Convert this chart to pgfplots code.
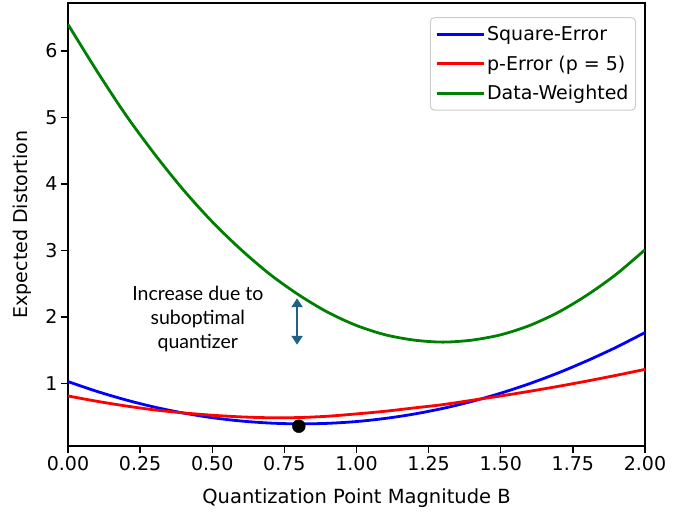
\documentclass[border=0pt]{standalone}
\usepackage{fontspec}
\setmainfont{DejaVu Sans}
\newfontfamily\notefont{Lato}
\usepackage{pgfplots}
\pgfplotsset{compat=1.18}
\usetikzlibrary{arrows.meta}

\definecolor{mplgreen}{RGB}{0,128,0}
\definecolor{notecol}{RGB}{30,98,135}

\begin{document}
\begin{tikzpicture}

\begin{axis}[
    at={(0,0)}, anchor=south west,
    scale only axis,
    width=577pt, height=443pt,
    xmin=0, xmax=2,
    ymin=0.057, ymax=6.722,
    xtick={0,0.25,0.5,0.75,1,1.25,1.5,1.75,2},
    ytick={1,2,3,4,5,6},
    tick pos=left,
    tick align=outside,
    major tick length=7pt,
    tick style={black, line width=1.3pt},
    axis line style={line width=1.3pt},
    font=\fontsize{19}{23}\selectfont,
    tick label style={font=\fontsize{19}{23}\selectfont},
    /pgf/number format/assume math mode=true,
    x tick label style={/pgf/number format/.cd, fixed, fixed zerofill, precision=2, /tikz/.cd},
    xlabel={Quantization Point Magnitude B},
    ylabel={Expected Distortion},
    xlabel style={at={([yshift=-57pt]axis description cs:0.5,0)}, anchor=base,
        font=\fontsize{19.5}{23}\selectfont},
    ylabel style={at={([xshift=-46pt]axis description cs:0,0.5)}, anchor=center},
    legend style={at={(rel axis cs:0.9844,0.968)}, anchor=north east,
        draw=black!20, line width=1pt, rounded corners=4pt,
        font=\fontsize{19}{23}\selectfont,
        inner xsep=5pt, inner ysep=7pt, row sep=9.5pt,
        cells={anchor=west}},
    legend image code/.code={
        \draw[#1] (0pt,0pt) -- (42pt,0pt);
        \path (0pt,0pt) -- (47pt,0pt);},
    legend cell align=left,
]

% Square-Error
\addplot[blue, line width=2.8pt, smooth] coordinates {
    (0.0,1.026) (0.1,0.879) (0.2,0.751) (0.3,0.642) (0.4,0.553)
    (0.5,0.483) (0.6,0.433) (0.7,0.402) (0.8,0.390) (0.9,0.398)
    (1.0,0.425) (1.1,0.472) (1.2,0.538) (1.3,0.623) (1.4,0.728)
    (1.5,0.852) (1.6,0.995) (1.7,1.158) (1.8,1.341) (1.9,1.542)
    (2.0,1.764)
};
\addlegendentry{Square-Error}

% p-Error (p = 5)
\addplot[red, line width=2.8pt, smooth] coordinates {
    (0.0,0.810) (0.1,0.730) (0.2,0.660) (0.3,0.600) (0.4,0.555)
    (0.5,0.520) (0.6,0.495) (0.7,0.482) (0.8,0.485) (0.9,0.505)
    (1.0,0.540) (1.1,0.580) (1.2,0.630) (1.3,0.680) (1.4,0.745)
    (1.5,0.810) (1.6,0.880) (1.7,0.955) (1.8,1.035) (1.9,1.120)
    (2.0,1.210)
};
\addlegendentry{p-Error (p = 5)}

% Data-Weighted
\addplot[mplgreen, line width=2.8pt, smooth] coordinates {
    (0.0,6.40) (0.1,5.70) (0.2,5.04) (0.3,4.45) (0.4,3.91)
    (0.5,3.43) (0.6,3.01) (0.7,2.64) (0.8,2.33) (0.9,2.07)
    (1.0,1.87) (1.1,1.73) (1.2,1.65) (1.3,1.62) (1.4,1.65)
    (1.5,1.73) (1.6,1.87) (1.7,2.07) (1.8,2.33) (1.9,2.64)
    (2.0,3.01)
};
\addlegendentry{Data-Weighted}

% optimum of the square-error quantizer
\addplot[only marks, mark=*, mark size=6.5pt, black, forget plot] coordinates {(0.8,0.355)};

% annotation
\draw[notecol, line width=2.4pt, {Triangle[length=9pt,width=11pt]}-{Triangle[length=9pt,width=11pt]}]
    (axis cs:0.794,2.28) -- (axis cs:0.794,1.58);
\node[align=center, font=\notefont\fontsize{19.5}{24}\selectfont]
    at (axis cs:0.45,1.97) {Increase due to\\suboptimal\\quantizer};

\end{axis}

\pgfresetboundingbox
\path[use as bounding box] (-68pt,-66pt) rectangle (629pt,446pt);
\end{tikzpicture}
\end{document}
